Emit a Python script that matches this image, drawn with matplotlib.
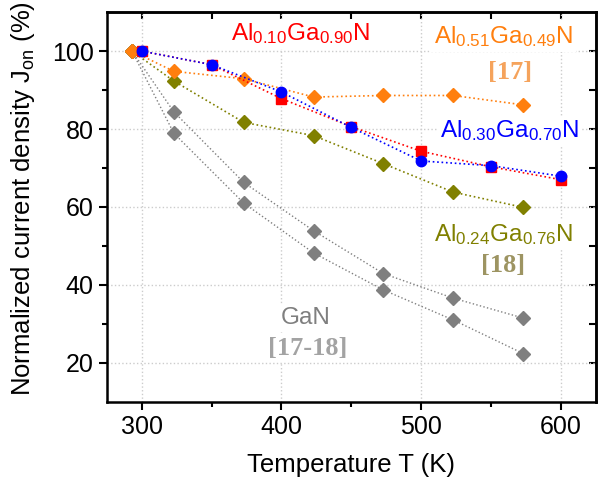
import numpy as np
import matplotlib
matplotlib.use('Agg')
import matplotlib.pyplot as plt

plt.rcParams['font.family'] = ['Liberation Sans', 'DejaVu Sans']
plt.rcParams['mathtext.fontset'] = 'custom'
plt.rcParams['mathtext.rm'] = 'Liberation Sans'
plt.rcParams['mathtext.it'] = 'Liberation Sans:italic'

# measured data (this work)
t_meas = [300, 350, 400, 450, 500, 550, 600]
j_al10 = [100, 96.5, 87.8, 80.6, 74.3, 70.3, 67.0]
j_al30 = [100, 96.5, 89.5, 80.4, 71.8, 70.6, 67.9]

# literature data
t_lit = [293, 323, 373, 423, 473, 523, 573]
j_al51 = [100, 94.8, 92.9, 88.2, 88.6, 88.6, 86.2]
j_al24 = [100, 92.3, 81.7, 78.3, 71.1, 63.8, 59.9]
j_gan_a = [100, 84.4, 66.3, 53.9, 42.9, 36.6, 31.5]
j_gan_b = [100, 78.9, 61.0, 48.2, 38.7, 31.0, 22.4]

RED = '#ff0000'
BLUE = '#0000ff'
ORANGE = '#ff7f0e'
OLIVE = '#808000'
GREY = '#7f7f7f'


def draw_series(ax):
    ax.plot(t_lit, j_gan_a, ':', color=GREY, lw=1.0, marker='D', ms=7, mec=GREY, zorder=3)
    ax.plot(t_lit, j_gan_b, ':', color=GREY, lw=1.0, marker='D', ms=7, mec=GREY, zorder=3)
    ax.plot(t_lit, j_al24, ':', color=OLIVE, lw=1.2, marker='D', ms=7, mec=OLIVE, zorder=3)
    ax.plot(t_lit, j_al51, ':', color=ORANGE, lw=1.2, marker='D', ms=7, mec=ORANGE, zorder=3)
    ax.plot(t_meas, j_al10, ':', color=RED, lw=1.2, marker='s', ms=7, mec=RED, zorder=4)
    ax.plot(t_meas, j_al30, ':', color=BLUE, lw=1.2, marker='o', ms=7.5, mec=BLUE, zorder=5)


def draw_labels(ax):
    box = dict(facecolor='white', edgecolor='none', pad=2)
    sans = dict(fontsize=17.5, ha='center', va='center', bbox=box, zorder=2)
    serif = dict(fontsize=19, ha='center', va='center', family='Liberation Serif',
                 weight='bold', bbox=box, zorder=2)
    ax.text(414, 104.4, r'Al$_{0.10}$Ga$_{0.90}$N', color=RED, **sans)
    ax.text(559, 103.6, r'Al$_{0.51}$Ga$_{0.49}$N', color=ORANGE, **sans)
    ax.text(563.5, 94.4, '[17]', color='#f5a35c', **serif)
    ax.text(563, 79.5, r'Al$_{0.30}$Ga$_{0.70}$N', color=BLUE, **sans)
    ax.text(559, 53.0, r'Al$_{0.24}$Ga$_{0.76}$N', color=OLIVE, **sans)
    ax.text(558.6, 44.9, '[18]', color='#9d9462', **serif)
    ax.text(417, 31.5, 'GaN', color=GREY, **sans)
    ax.text(419, 23.8, '[17-18]', color='#a3a3a3', **serif)


def style_axes(ax):
    ax.set_xlim(275, 625)
    ax.set_ylim(10, 110)
    ax.set_xticks([300, 400, 500, 600])
    ax.set_xticks([350, 450, 550], minor=True)
    ax.set_yticks([20, 40, 60, 80, 100])
    ax.set_yticks([30, 50, 70, 90], minor=True)
    ax.grid(True, which='major', ls=':', color='#cccccc', lw=1.0, zorder=0)
    ax.set_axisbelow(True)
    ax.tick_params(labelsize=18, width=1.5, pad=4)
    ax.tick_params(which='major', length=5.5)
    ax.tick_params(which='minor', length=3.5, width=1.5)
    for s in ax.spines.values():
        s.set_linewidth(1.8)
    ax.set_xlabel('Temperature T (K)', fontsize=18.5, labelpad=10)
    ax.set_ylabel(r'Normalized current density J$_{\mathrm{on}}$ (%)', fontsize=18.5)
    ax.yaxis.set_label_coords(-0.143, 0.522)

    # inward ticks on top and right
    top = ax.secondary_xaxis('top')
    top.set_xticks([300, 350, 400, 450, 500, 550, 600])
    top.tick_params(direction='in', length=5, width=1.5, labeltop=False)
    right = ax.secondary_yaxis('right')
    right.set_yticks([20, 30, 40, 50, 60, 70, 80, 90, 100])
    right.tick_params(direction='in', length=5, width=1.5, labelright=False)
    for sec in (top, right):
        for s in sec.spines.values():
            s.set_linewidth(1.8)


def main():
    fig = plt.figure(figsize=(6.0, 4.83), dpi=100)
    ax = fig.add_axes([0.178, 0.168, 0.815, 0.807])
    style_axes(ax)
    draw_labels(ax)
    draw_series(ax)
    fig.savefig('out.png', dpi=100)


if __name__ == '__main__':
    main()
